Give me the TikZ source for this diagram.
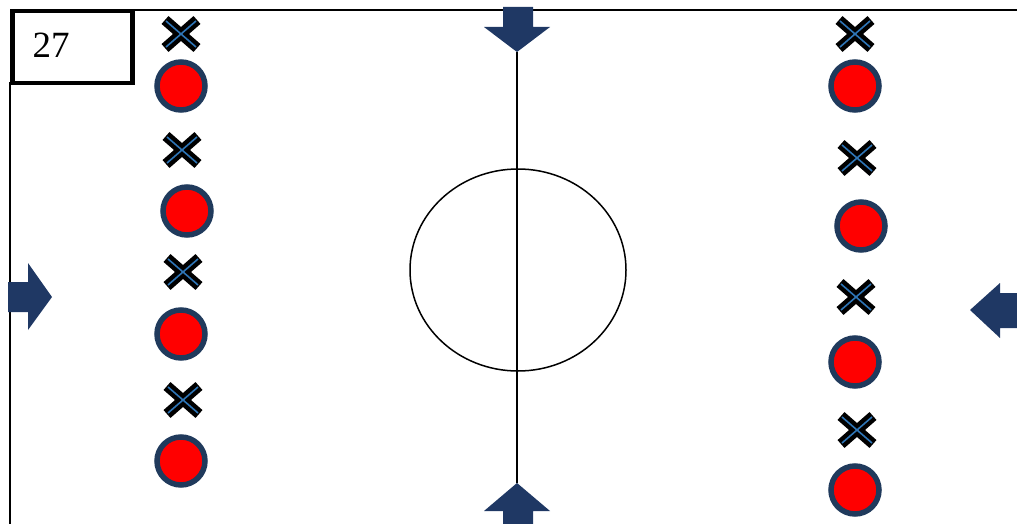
\documentclass[tikz,border=0pt]{standalone}
\usepackage{fontspec}
\setmainfont{Liberation Serif}
\definecolor{navy}{HTML}{1F3864}
\definecolor{ring}{HTML}{203A5C}
\definecolor{xblue}{HTML}{2E75B6}
\begin{document}
\begin{tikzpicture}[x=1pt,y=-1pt,
  fieldline/.style={line width=1.5pt,black},
  player/.style={circle,fill=red,draw=ring,line width=5.5pt,minimum size=48pt,inner sep=0pt},
  arrowshape/.style={fill=navy,draw=none}]
\useasboundingbox (0,0) rectangle (1017,524);
% field
\coordinate (tr) at (1017,10);
\coordinate (bl) at (10,524);
\draw[fieldline] (132,10) -- (tr);
\draw[fieldline] (10,82) -- (bl);
\coordinate (mt) at (517,52);
\coordinate (mb) at (517,483);
\draw[fieldline] (mt) -- (mb);
\draw[fieldline] (518,270) ellipse[x radius=108, y radius=101];
% number box
\node[draw,line width=4.5pt,minimum width=120pt,minimum height=72pt,inner sep=0pt,anchor=north west] (box) at (10,9) {};
\node[font=\fontsize{37}{42}\selectfont] (num) at (51,45) {27};
% arrows
\fill[arrowshape] (503,7) -- (533,7) -- (533,27) -- (550,27) -- (517,52) -- (484,27) -- (503,27) -- cycle;
\fill[arrowshape] (503,524) -- (533,524) -- (533,511) -- (550,511) -- (517,483) -- (484,511) -- (503,511) -- cycle;
\fill[arrowshape] (8,282) -- (28,282) -- (28,263) -- (52,297) -- (28,330) -- (28,312) -- (8,312) -- cycle;
\fill[arrowshape] (1017,293) -- (1000,293) -- (1000,283) -- (970,310) -- (1000,338) -- (1000,328) -- (1017,328) -- cycle;
% markers
\newcommand{\xmark}[2]{%
  \draw[black,line width=10.5pt] (#1-16,#2-14) -- (#1+16,#2+14) (#1-16,#2+14) -- (#1+16,#2-14);
  \draw[xblue,line width=1.6pt] (#1-15,#2-13) -- (#1+15,#2+13) (#1-15,#2+13) -- (#1+15,#2-13);}
\xmark{181}{34}\xmark{182}{150}\xmark{183}{272}\xmark{183}{400}
\xmark{855}{34}\xmark{857}{158}\xmark{856}{297}\xmark{857}{430}
\node[player] (l1) at (181,86) {};
\node[player] (l2) at (187,211) {};
\node[player] (l3) at (181,334) {};
\node[player] (l4) at (181,461) {};
\node[player] (r1) at (855,86) {};
\node[player] (r2) at (861,226) {};
\node[player] (r3) at (855,362) {};
\node[player] (r4) at (855,490) {};
\end{tikzpicture}
\end{document}
